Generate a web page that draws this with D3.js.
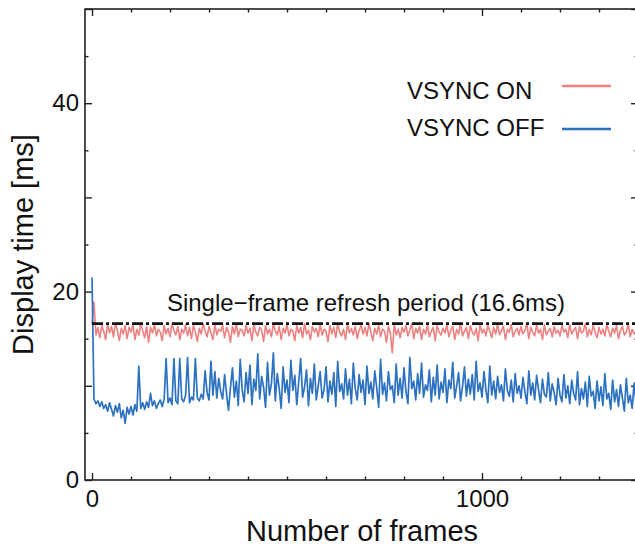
<!DOCTYPE html>
<meta charset="utf-8">
<style>
  body { margin: 0; background: #fff; }
  text { font-family: "Liberation Sans", Arial, sans-serif; fill: #111; }
</style>
<svg width="635" height="551"></svg>
<script src="https://cdn.jsdelivr.net/npm/d3@7/dist/d3.min.js"></script>
<script>

    // frame number of each sample (every 5th frame)
    var frames = d3.range(0, 1400, 5);

    var vsyncOn = [
        16.6, 18.9, 15.4, 16.2, 15.1, 16.4, 15.8, 14.9, 16.5, 15.6, 16.3, 15.2, 16.6, 15.9, 14.8, 16.1, 15.5, 16.4, 15.0, 16.2,
        15.7, 16.5, 14.9, 16.0, 15.4, 16.6, 15.8, 15.1, 16.3, 14.6, 16.2, 15.6, 16.5, 15.3, 16.0, 15.7, 14.8, 16.4, 15.5, 16.1,
        15.2, 16.6, 15.9, 15.4, 16.3, 14.9, 16.0, 15.6, 16.5, 15.3, 16.2, 15.0, 16.4, 15.7, 14.7, 16.1, 15.5, 16.6, 15.8, 15.2,
        16.3, 15.6, 14.9, 16.5, 15.4, 16.0, 15.8, 16.4, 15.1, 16.2, 15.7, 14.6, 16.3, 15.5, 16.6, 15.2, 16.0, 15.9, 15.3, 16.4,
        15.6, 16.1, 14.8, 16.5, 15.7, 15.3, 16.2, 15.9, 14.7, 16.4, 15.5, 16.0, 15.2, 16.6, 15.8, 15.4, 16.3, 14.9, 16.1, 15.6,
        16.5, 15.3, 16.0, 15.8, 14.8, 16.4, 15.6, 16.2, 15.1, 16.6, 15.5, 15.9, 14.9, 16.3, 15.7, 16.1, 15.2, 16.5, 15.4, 16.0,
        15.8, 14.7, 16.4, 15.5, 16.2, 15.1, 16.6, 15.7, 15.3, 16.0, 14.9, 16.5, 15.6, 16.1, 15.4, 16.3, 15.0, 15.9, 16.4, 15.5,
        16.2, 15.3, 16.6, 15.7, 14.8, 16.1, 15.5, 16.4, 15.2, 16.0, 15.8, 14.6, 16.3, 15.6, 13.5, 16.5, 15.4, 16.0, 15.1, 16.2,
        15.7, 16.4, 15.3, 15.9, 16.6, 15.0, 16.1, 15.6, 16.3, 14.9, 16.0, 15.5, 16.5, 15.2, 15.8, 16.2, 14.8, 16.4, 15.7, 15.4,
        16.1, 15.6, 16.5, 15.2, 15.9, 16.3, 14.9, 16.0, 15.5, 16.6, 15.3, 15.8, 16.2, 15.0, 16.4, 15.7, 15.4, 16.1, 14.8, 16.5,
        15.6, 16.0, 15.3, 16.4, 15.8, 15.1, 16.2, 15.5, 16.6, 15.4, 15.9, 16.3, 14.9, 16.0, 15.7, 16.5, 15.2, 15.8, 16.1, 15.4,
        16.3, 15.5, 15.9, 16.6, 15.0, 16.2, 15.7, 15.3, 16.4, 15.6, 16.0, 14.9, 16.5, 15.4, 15.8, 16.1, 15.2, 16.3, 15.6, 15.9,
        15.3, 16.4, 15.7, 16.0, 15.1, 16.5, 15.5, 15.9, 16.2, 15.0, 16.3, 15.6, 15.8, 16.6, 15.2, 16.0, 15.4, 16.4, 15.7, 15.1,
        16.2, 15.5, 16.0, 15.3, 16.5, 15.8, 15.2, 16.1, 15.6, 16.4, 15.0, 15.9, 16.3, 15.4, 15.7, 16.5, 15.2, 16.0, 15.5, 15.8
    ];

    var vsyncOff = [
        21.5, 8.6, 8.1, 8.4, 7.8, 8.3, 7.6, 8.0, 7.3, 8.2, 7.5, 6.8, 7.9, 7.2, 8.1, 6.6, 7.4, 6.0, 7.7, 7.0,
        7.8, 6.9, 8.0, 7.3, 12.1, 7.6, 8.2, 7.5, 8.3, 7.7, 9.2, 7.9, 8.4, 7.6, 8.1, 8.5, 7.8, 8.6, 12.9, 8.2,
        8.7, 8.0, 12.9, 8.4, 8.1, 12.9, 8.6, 8.3, 9.0, 13.0, 8.2, 8.8, 8.5, 12.9, 8.7, 8.4, 9.1, 8.6, 11.6, 9.3,
        8.5, 12.6, 9.0, 11.5, 8.7, 10.8, 9.4, 8.6, 11.2, 9.1, 7.4, 9.8, 11.9, 8.8, 10.5, 7.9, 12.8, 9.6, 8.3, 11.4,
        9.2, 12.2, 8.0, 10.7, 9.5, 13.4, 8.6, 11.0, 9.8, 7.7, 12.5, 9.0, 10.2, 13.5, 8.4, 11.3, 9.7, 7.6, 12.0, 9.3,
        10.6, 8.2, 12.7, 9.5, 11.1, 8.0, 10.4, 12.9, 8.8, 9.9, 11.7, 7.9, 10.8, 9.2, 12.3, 8.5, 10.0, 11.5, 8.7, 9.6,
        12.0, 8.3, 10.5, 9.1, 11.4, 7.8, 12.6, 9.4, 10.2, 8.6, 11.8, 9.0, 10.7, 8.1, 12.4, 9.7, 8.5, 11.2, 9.3, 10.6,
        8.0, 12.1, 9.2, 10.4, 8.6, 11.6, 9.8, 7.7, 12.8, 9.1, 10.3, 8.4, 11.5, 9.6, 10.0, 8.2, 12.3, 9.0, 10.8, 8.7,
        11.9, 9.4, 8.1, 13.0, 9.7, 10.5, 8.5, 11.3, 9.2, 12.4, 8.8, 10.1, 9.5, 11.7, 8.3, 10.9, 9.0, 12.2, 8.6, 10.4,
        9.3, 11.8, 8.2, 10.6, 9.7, 12.5, 8.7, 10.0, 11.4, 8.4, 9.9, 12.0, 8.9, 10.7, 9.1, 11.2, 8.5, 12.6, 9.4, 10.3,
        8.8, 11.5, 9.6, 8.2, 12.1, 9.0, 10.5, 8.6, 11.0, 9.3, 10.1, 8.4, 11.8, 9.5, 8.9, 10.6, 8.3, 11.3, 9.2, 10.0,
        8.7, 10.9, 9.4, 8.1, 11.6, 9.0, 10.3, 8.5, 11.1, 9.6, 8.2, 10.7, 9.1, 8.8, 11.4, 8.4, 10.2, 9.3, 8.0, 10.8,
        9.0, 8.3, 11.2, 8.7, 10.0, 8.1, 10.6, 9.2, 8.5, 11.5, 8.0, 9.7, 8.6, 10.4, 7.8, 11.0, 8.9, 9.4, 7.6, 10.5,
        8.4, 9.9, 7.9, 11.3, 8.6, 9.2, 7.5, 10.6, 8.3, 9.6, 7.8, 10.1, 8.7, 7.3, 10.8, 8.2, 9.0, 7.6, 10.3, 8.1
    ];

    var refreshPeriod = 16.6;
    var seriesNames = ["VSYNC ON", "VSYNC OFF"];
    var seriesColors = ["#ef8080", "#2d72c0"];
    var xLabels = [0, 1000];
    var yLabels = [0, 20, 40];

    var svg = d3.select("svg"),
        mLeft = 85, mRight = 638, mTop = 9, mBottom = 480;

    var x = d3.scaleLinear().domain([-18, 1400]).range([mLeft, mRight]);
    var y = d3.scaleLinear().domain([0, 50]).range([mBottom, mTop]);

    svg.append("defs").append("clipPath").attr("id", "clip")
        .append("rect").attr("x", mLeft).attr("y", mTop)
        .attr("width", mRight - mLeft).attr("height", mBottom - mTop);

    // ticks (inward, on all four sides)
    function ticks(axis, pos, values, size) {
        var g = svg.append("g")
            .attr("transform", pos)
            .call(axis.tickValues(values).tickSizeInner(size).tickSizeOuter(0).tickFormat(""));
        g.select(".domain").remove();
        g.selectAll("line").attr("stroke", "#222").attr("stroke-width", 1.4);
        return g;
    }
    var xMinor = d3.range(100, 1400, 100).filter(d => d % 1000 !== 0);
    var yMinor = d3.range(5, 50, 10);
    var yMajor = d3.range(0, 51, 10);

    ticks(d3.axisBottom(x), "translate(0," + mBottom + ")", xLabels, -7);
    ticks(d3.axisBottom(x), "translate(0," + mBottom + ")", xMinor, -3.5);
    ticks(d3.axisTop(x), "translate(0," + mTop + ")", xLabels, -7);
    ticks(d3.axisTop(x), "translate(0," + mTop + ")", xMinor, -3.5);
    ticks(d3.axisLeft(y), "translate(" + mLeft + ",0)", yMajor, -7);
    ticks(d3.axisLeft(y), "translate(" + mLeft + ",0)", yMinor, -3.5);
    ticks(d3.axisRight(y), "translate(" + mRight + ",0)", yMajor, -7);
    ticks(d3.axisRight(y), "translate(" + mRight + ",0)", yMinor, -3.5);

    // tick labels
    function labels(axis, pos, values, pad) {
        var g = svg.append("g").attr("transform", pos)
            .call(axis.tickValues(values).tickSize(0).tickPadding(pad).tickFormat(d3.format("d")));
        g.select(".domain").remove();
        g.selectAll("text").attr("font-size", 24).attr("fill", "#111")
            .style("font-family", "'Liberation Sans', Arial, sans-serif");
        return g;
    }
    labels(d3.axisLeft(y), "translate(" + mLeft + ",0)", yLabels, 6);
    labels(d3.axisBottom(x), "translate(0," + mBottom + ")", xLabels, 10);

    // data lines
    var line = d3.line()
        .x((d, i) => x(frames[i]))
        .y(d => y(d));

    var plot = svg.append("g").attr("clip-path", "url(#clip)");
    plot.append("path").datum(vsyncOn)
        .attr("fill", "none").attr("stroke", seriesColors[0])
        .attr("stroke-width", 1.6).attr("stroke-linejoin", "round")
        .attr("d", line);
    plot.append("path").datum(vsyncOff)
        .attr("fill", "none").attr("stroke", seriesColors[1])
        .attr("stroke-width", 1.7).attr("stroke-linejoin", "round")
        .attr("d", line);

    plot.append("line")
        .attr("x1", x(0)).attr("x2", mRight)
        .attr("y1", y(refreshPeriod)).attr("y2", y(refreshPeriod))
        .attr("stroke", "#111").attr("stroke-width", 2.6)
        .attr("stroke-dasharray", "11,3,3,3");

    svg.append("text")
        .attr("x", 366).attr("y", 311)
        .attr("text-anchor", "middle").attr("font-size", 24)
        .text("Single\u2212frame refresh period (" + refreshPeriod + "ms)");

    // frame box
    svg.append("rect")
        .attr("x", mLeft).attr("y", mTop)
        .attr("width", mRight - mLeft).attr("height", mBottom - mTop)
        .attr("fill", "none").attr("stroke", "#222").attr("stroke-width", 1.6);

    // legend
    var legend = svg.append("g").selectAll("g")
        .data(seriesNames).enter().append("g")
        .attr("transform", (d, i) => "translate(0," + (i * 37) + ")");
    legend.append("text")
        .attr("x", 407).attr("y", 99)
        .attr("font-size", 24)
        .text(d => d);
    legend.append("line")
        .attr("x1", 562).attr("x2", 611)
        .attr("y1", (d, i) => 86 + i * 6).attr("y2", (d, i) => 86 + i * 6)
        .attr("stroke", (d, i) => seriesColors[i]).attr("stroke-width", 2.6);

    // axis titles
    svg.append("text")
        .attr("x", 362).attr("y", 541)
        .attr("text-anchor", "middle").attr("font-size", 29)
        .text("Number of frames");
    svg.append("text")
        .attr("transform", "translate(33," + ((mTop + mBottom) / 2) + ") rotate(-90)")
        .attr("text-anchor", "middle").attr("font-size", 29)
        .text("Display time [ms]");

</script>
